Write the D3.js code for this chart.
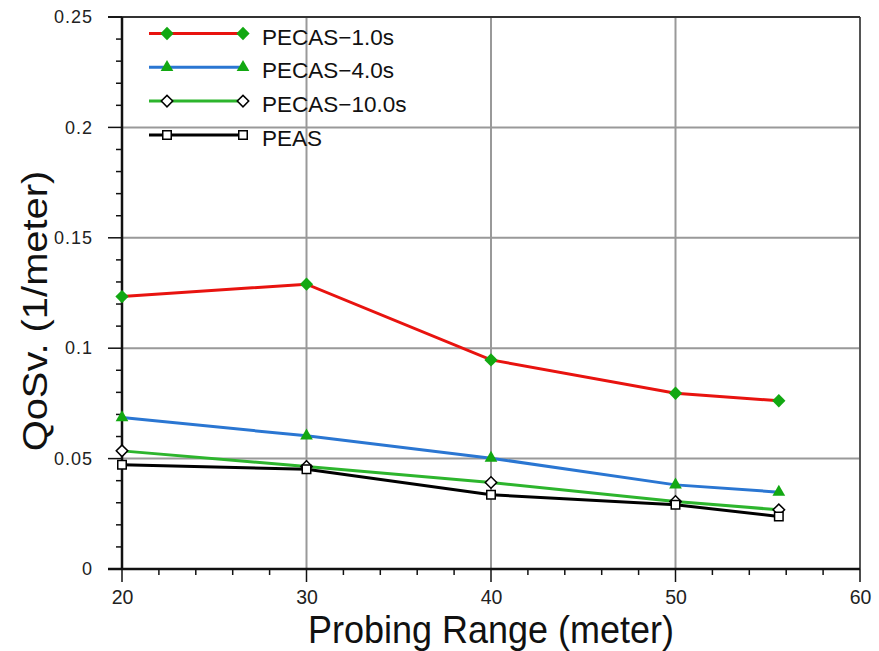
<!DOCTYPE html>
<html>
<head>
<meta charset="utf-8">
<script src="https://cdn.jsdelivr.net/npm/d3@7"></script>
<style>
body { margin: 0; background: #fff; }
text { font-family: "Liberation Sans", Arial, sans-serif; }
</style>
</head>
<body>
<div id="vis"></div>
<script>
'use strict';

// data
var xs = [20, 30, 40, 50, 55.6];
var pecas1 = [0.1234, 0.129, 0.0947, 0.0796, 0.0762];
var pecas4 = [0.0686, 0.0603, 0.0502, 0.0381, 0.0348];
var pecas10 = [0.0535, 0.0464, 0.0392, 0.0306, 0.0268];
var peas = [0.0472, 0.0452, 0.0336, 0.0291, 0.0238];
var seriesNames = ['PECAS\u22121.0s', 'PECAS\u22124.0s', 'PECAS\u221210.0s', 'PEAS'];
var xTicks = [20, 30, 40, 50, 60];
var yTicks = [0, 0.05, 0.1, 0.15, 0.2, 0.25];

var width = 879, height = 651;
var margin = {top: 17, right: 19, bottom: 82, left: 122};

var svg = d3.select('#vis').append('svg')
  .attr('width', width).attr('height', height);

var x = d3.scaleLinear().domain([20, 60]).range([margin.left, width - margin.right]);
var y = d3.scaleLinear().domain([0, 0.25]).range([height - margin.bottom, margin.top]);

// grid
var grid = svg.append('g');
grid.selectAll('.gx').data(xTicks.slice(1, -1)).enter().append('line')
  .attr('x1', d => x(d)).attr('x2', d => x(d))
  .attr('y1', y(0)).attr('y2', y(0.25))
  .attr('stroke', '#999').attr('stroke-width', 2);
grid.selectAll('.gy').data(yTicks.slice(1, -1)).enter().append('line')
  .attr('x1', x(20)).attr('x2', x(60))
  .attr('y1', d => y(d)).attr('y2', d => y(d))
  .attr('stroke', '#999').attr('stroke-width', 2);

// frame
svg.append('line').attr('x1', x(60)).attr('x2', x(60)).attr('y1', y(0)).attr('y2', y(0.25))
  .attr('stroke', '#555').attr('stroke-width', 2);
svg.append('line').attr('x1', x(20) - 14).attr('x2', x(60)).attr('y1', y(0.25)).attr('y2', y(0.25))
  .attr('stroke', '#333').attr('stroke-width', 2);
svg.append('line').attr('x1', x(20)).attr('x2', x(20)).attr('y1', y(0)).attr('y2', y(0.25))
  .attr('stroke', '#111').attr('stroke-width', 2.5);
svg.append('line').attr('x1', x(20) - 14).attr('x2', x(60)).attr('y1', y(0)).attr('y2', y(0))
  .attr('stroke', '#111').attr('stroke-width', 2.5);

// axes labels
var xAxis = d3.axisBottom(x).tickValues(xTicks).tickSize(0).tickPadding(21).tickFormat(d3.format('d'));
var gx = svg.append('g').attr('transform', 'translate(0,' + y(0) + ')').call(xAxis);
gx.select('.domain').remove();
gx.selectAll('text').attr('font-size', 19.5).attr('fill', '#222')
  .attr('font-family', '"Liberation Sans", Arial, sans-serif');

var yAxis = d3.axisLeft(y).tickValues(yTicks).tickSize(0).tickPadding(29).tickFormat(d => d === 0 ? '0' : d3.format('')(d));
var gy = svg.append('g').attr('transform', 'translate(' + x(20) + ',0)').call(yAxis);
gy.select('.domain').remove();
gy.selectAll('text').attr('font-size', 18).attr('fill', '#222').attr('letter-spacing', 1)
  .attr('font-family', '"Liberation Sans", Arial, sans-serif');

// tick marks
var ticks = svg.append('g').attr('stroke', '#111').attr('stroke-width', 1.5);
var xMinor = d3.range(20, 60.1, 2);
ticks.selectAll('.tx').data(xMinor).enter().append('line')
  .attr('x1', d => x(d)).attr('x2', d => x(d))
  .attr('y1', y(0))
  .attr('y2', d => d % 10 === 0 ? y(0) + 13 : y(0) + 6);
var yMinor = d3.range(0, 0.2501, 0.01);
ticks.selectAll('.ty').data(yMinor).enter().append('line')
  .attr('y1', d => y(d)).attr('y2', d => y(d))
  .attr('x1', (d, i) => i % 5 === 0 ? x(20) - 14 : x(20) - 6)
  .attr('x2', x(20));

// titles
svg.append('text').attr('transform', 'translate(' + ((x(20) + x(60)) / 2) + ',643) scale(1,1.1)')
  .attr('text-anchor', 'middle').attr('font-size', 36).attr('fill', '#111').text('Probing Range (meter)');
svg.append('text').attr('transform', 'translate(47,311) rotate(-90) scale(1.14,1)')
  .attr('text-anchor', 'middle').attr('font-size', 35).attr('fill', '#111').text('QoSv. (1/meter)');

// series
var series = [
  {name: seriesNames[0], vals: pecas1, color: '#e8130f', marker: 'diamond', fill: '#12a812', stroke: 'none'},
  {name: seriesNames[1], vals: pecas4, color: '#2a76d2', marker: 'triangle', fill: '#12a812', stroke: 'none'},
  {name: seriesNames[2], vals: pecas10, color: '#2db52d', marker: 'diamond', fill: '#fff', stroke: '#000'},
  {name: seriesNames[3], vals: peas, color: '#000', marker: 'square', fill: '#fff', stroke: '#000'}
];

function markerPath(s) {
  if (s.marker === 'triangle') return d3.symbol().type(d3.symbolTriangle).size(70)();
  if (s.marker === 'square') return d3.symbol().type(d3.symbolSquare).size(s.stroke === 'none' ? 80 : 72)();
  return d3.symbol().type(d3.symbolSquare).size(s.stroke === 'none' ? 88 : 66)();
}
function markerRot(s) { return s.marker === 'diamond' ? ' rotate(45)' : ''; }

var line = d3.line().x(d => x(d[0])).y(d => y(d[1]));

series.forEach(function(s) {
  var pts = xs.map((v, i) => [v, s.vals[i]]);
  svg.append('path').datum(pts).attr('d', line)
    .attr('fill', 'none').attr('stroke', s.color).attr('stroke-width', 3);
});
series.forEach(function(s) {
  var pts = xs.map((v, i) => [v, s.vals[i]]);
  svg.selectAll(null).data(pts).enter().append('path')
    .attr('transform', d => 'translate(' + x(d[0]) + ',' + y(d[1]) + ')' + markerRot(s))
    .attr('d', markerPath(s)).attr('fill', s.fill)
    .attr('stroke', s.stroke).attr('stroke-width', 1.5);
});

// legend
var lg = svg.append('g');
series.forEach(function(s, i) {
  var ly = 33.5 + i * 33.8;
  lg.append('line').attr('x1', 149).attr('x2', 243).attr('y1', ly).attr('y2', ly)
    .attr('stroke', s.color).attr('stroke-width', 3);
  [167, 243].forEach(function(mx) {
    lg.append('path').attr('transform', 'translate(' + mx + ',' + ly + ')' + markerRot(s))
      .attr('d', markerPath(s)).attr('fill', s.fill).attr('stroke', s.stroke).attr('stroke-width', 1.5);
  });
  lg.append('text').attr('x', 262).attr('y', ly + 11).attr('font-size', 22.5).attr('fill', '#111').text(s.name);
});
</script>
</body>
</html>
